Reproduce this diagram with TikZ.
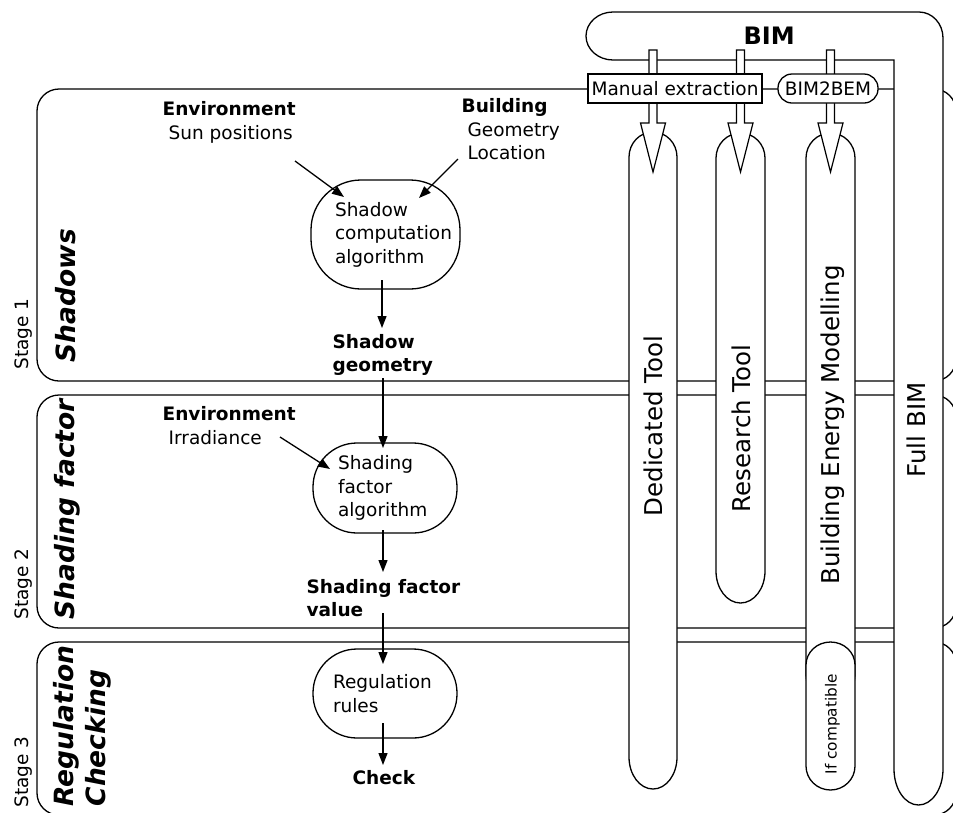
\documentclass[tikz,border=0pt]{standalone}
\usepackage{fontspec}
\setmainfont{DejaVu Sans}
\usetikzlibrary{arrows.meta}
% pill outline: xl xr ytop ybottom rtop rbottom
\newcommand{\pillpath}[6]{({#1},{#3+#5}) .. controls ({#1},{#3+0.4477*#5}) and ({(#1+#2)/2-0.5523*(#2-#1)/2},{#3}) .. ({(#1+#2)/2},{#3})
  .. controls ({(#1+#2)/2+0.5523*(#2-#1)/2},{#3}) and ({#2},{#3+0.4477*#5}) .. ({#2},{#3+#5})
  -- ({#2},{#4-#6}) .. controls ({#2},{#4-0.4477*#6}) and ({(#1+#2)/2+0.5523*(#2-#1)/2},{#4}) .. ({(#1+#2)/2},{#4})
  .. controls ({(#1+#2)/2-0.5523*(#2-#1)/2},{#4}) and ({#1},{#4-0.4477*#6}) .. ({#1},{#4-#6}) -- cycle}
\newcommand{\hollowarrow}[1]{({#1-4},50) -- ({#1+4},50) -- ({#1+4},123) -- ({#1+12.5},123) -- ({#1},172) -- ({#1-12.5},123) -- ({#1-4},123) -- cycle}
\begin{document}
\begin{tikzpicture}[x=1pt,y=-1pt,
  line width=1.3pt,
  stagebox/.style={draw, rounded corners=22pt},
  pill/.style={draw, fill=white},
  hollow/.style={draw, fill=white, line width=1.2pt},
  arr/.style={-{Triangle[length=12pt,width=9pt]}, line width=1.3pt},
  txt/.style={inner sep=0pt, font=\fontsize{18.5}{23.5}\selectfont},
  btxt/.style={inner sep=0pt, font=\fontsize{18.5}{22.5}\selectfont\bfseries},
  proc/.style={draw, fill=white, inner sep=0pt, align=left, font=\fontsize{18.5}{23.5}\selectfont},
  vlab/.style={rotate=90, anchor=base west, inner sep=0pt, font=\fontsize{24.5}{29}\selectfont},
  stagelab/.style={rotate=90, anchor=base west, inner sep=0pt, font=\fontsize{18.5}{22}\selectfont},
  stagetitle/.style={rotate=90, inner sep=0pt, font=\fontsize{26.5}{32}\selectfont\bfseries\itshape},
  ]
\clip (0,0) rectangle (953,812);
\fill[white] (0,0) rectangle (953,812);

% stage boxes
\draw[stagebox] (37,89) rectangle (956,381);
\draw[stagebox] (37,395) rectangle (956,628);
\draw[stagebox] (37,642) rectangle (956,815);

% tool pills
\draw[pill] \pillpath{629}{677}{132}{789}{25}{32};
\draw[pill] \pillpath{716}{765}{133}{603}{25}{32};
\draw[pill] \pillpath{806}{855}{133}{700}{25}{25};
\draw[pill] \pillpath{806}{855}{642}{790}{23}{24};

% BIM band + Full BIM
\draw[pill] (894,60) -- (613,60)
  .. controls (598.1,60) and (586,49.25) .. (586,36)
  .. controls (586,22.75) and (598.1,12) .. (613,12)
  -- (919,12)
  .. controls (932.25,12) and (943,23.6) .. (943,38)
  -- (943,769)
  .. controls (943,788.9) and (932,805) .. (918.5,805)
  .. controls (905,805) and (894,788.9) .. (894,769)
  -- cycle;

% hollow arrows
\draw[hollow] \hollowarrow{653};
\draw[hollow] \hollowarrow{740.5};
\draw[hollow] \hollowarrow{830.5};

\node[draw, fill=white, minimum width=174pt, minimum height=29pt, txt] (manual) at (675,88.5) {Manual extraction};
\node[draw, fill=white, rounded corners=14pt, minimum width=100pt, minimum height=29pt, txt] (b2b) at (828,88.5) {BIM2BEM};
\node[anchor=base west, inner sep=0pt, font=\fontsize{24}{28}\selectfont\bfseries] (bim) at (743,44.3) {BIM};

% stage labels
\node[stagelab] (s1) at (28.3,370) {Stage 1};
\node[stagetitle, anchor=base west] (t1) at (75,363) {Shadows};
\node[stagelab] (s2) at (28.3,620) {Stage 2};
\node[stagetitle, anchor=base west] (t2) at (74,620) {Shading factor};
\node[stagelab] (s3) at (28.3,808) {Stage 3};
\node[stagetitle, align=left, anchor=north west] (t3) at (53,807) {Regulation\\Checking};

% process column
\node[txt, align=left, anchor=north west] (env1) at (162,101) {\textbf{Environment}\\\hspace*{6pt}Sun positions};
\node[txt, align=left, anchor=north west] (bld) at (461,98) {\textbf{Building}\\\hspace*{6pt}Geometry\\\hspace*{6pt}Location};
\node[proc, rounded corners=50pt, minimum width=149pt, minimum height=109pt, text width=101pt] (shc) at (385.5,234.5) {Shadow\\\mbox{computation}\\algorithm};
\node[btxt, align=left, anchor=north west] (sgeo) at (332,334) {Shadow\\geometry};
\node[txt, align=left, anchor=north west] (env2) at (162,406) {\textbf{Environment}\\\hspace*{6pt}Irradiance};
\node[proc, rounded corners=44pt, minimum width=144pt, minimum height=90pt, text width=94pt] (sfa) at (385,488) {Shading\\factor\\algorithm};
\node[btxt, align=left, anchor=north west] (sfv) at (306,579) {Shading factor\\value};
\node[proc, rounded corners=44pt, minimum width=144pt, minimum height=89pt, text width=104pt] (reg) at (385,693.5) {Regulation\\rules};
\node[btxt, anchor=base west] (chk) at (352,784) {Check};

% connector ends
\coordinate (d1s) at (295,161); \coordinate (d1e) at (344,197);
\coordinate (d2s) at (458,159); \coordinate (d2e) at (419,198);
\coordinate (d3s) at (280,437); \coordinate (d3e) at (330,469);
\coordinate (v1s) at (382,280); \coordinate (v1e) at (382,328);
\coordinate (v2s) at (383,378); \coordinate (v2e) at (383,448);
\coordinate (v3s) at (383,530); \coordinate (v3e) at (383,572);
\coordinate (v4s) at (383,613); \coordinate (v4e) at (383,664);
\coordinate (v5s) at (383,723); \coordinate (v5e) at (383,765);
\draw[arr] (d1s) -- (d1e);
\draw[arr] (d2s) -- (d2e);
\draw[arr] (d3s) -- (d3e);
\draw[arr] (v1s) -- (v1e);
\draw[arr] (v2s) -- (v2e);
\draw[arr] (v3s) -- (v3e);
\draw[arr] (v4s) -- (v4e);
\draw[arr] (v5s) -- (v5e);

% pill labels
\node[vlab] (ded) at (662,517) {Dedicated Tool};
\node[vlab] (res) at (750.7,513) {Research Tool};
\node[vlab] (bem) at (839.5,585) {Building Energy Modelling};
\node[vlab] (full) at (925,478) {Full BIM};
\node[rotate=90, anchor=base west, inner sep=0pt, font=\fontsize{15.3}{18}\selectfont] (ifc) at (836.7,775) {If compatible};
\end{tikzpicture}
\end{document}
